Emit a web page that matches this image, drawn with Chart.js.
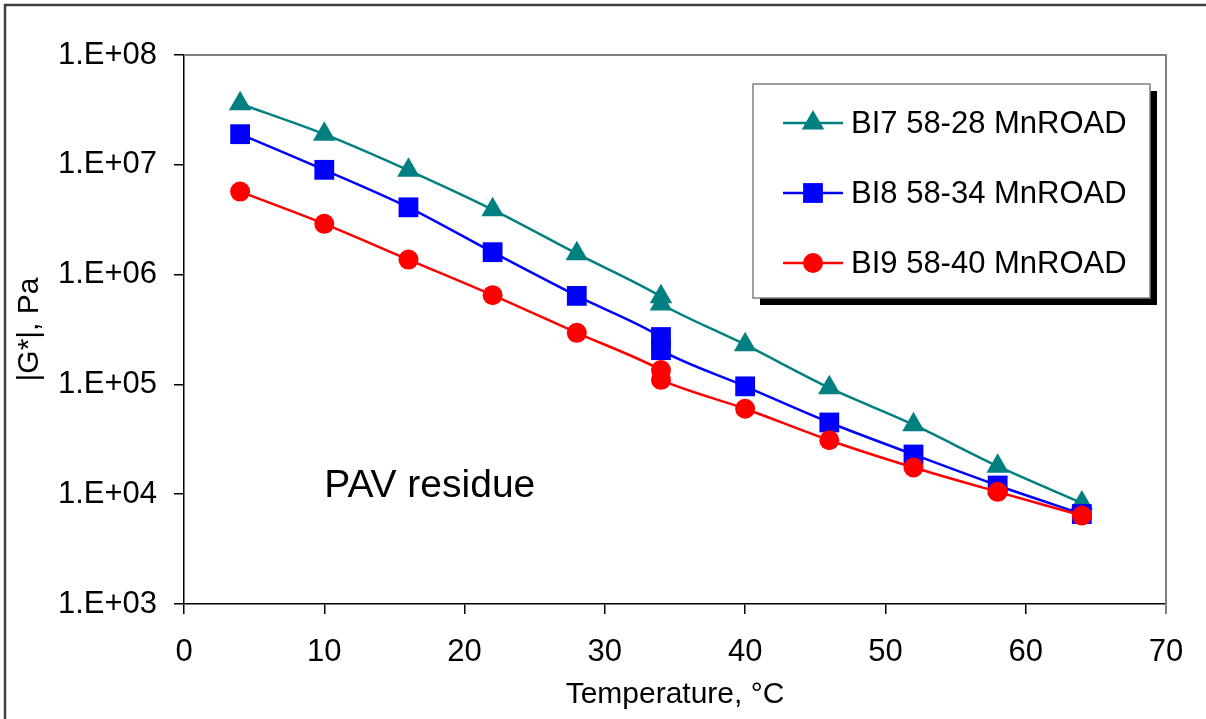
<!DOCTYPE html>
<html>
<head>
<meta charset="utf-8">
<title>|G*| vs temperature, PAV residue</title>
<script src="https://cdn.jsdelivr.net/npm/chart.js@4/dist/chart.umd.min.js"></script>
<style>
	html, body { margin: 0; padding: 0; background: #fff; }
	#gChart { display: block; }
</style>
</head>
<body>
<canvas id="gChart" width="1206" height="719"></canvas>
<script>
let temps = [4, 10, 16, 22, 28, 34, 34, 40, 46, 52, 58, 64];
let bi7 = [3.6e7, 1.9e7, 8.9e6, 3.9e6, 1.55e6, 6.3e5, 5.4e5, 2.3e5, 9.3e4, 4.3e4, 1.8e4, 8.3e3];
let bi8 = [1.9e7, 9.0e6, 4.1e6, 1.6e6, 6.4e5, 2.7e5, 2.05e5, 9.6e4, 4.5e4, 2.3e4, 1.2e4, 6.6e3];
let bi9 = [5.7e6, 2.9e6, 1.37e6, 6.5e5, 2.95e5, 1.35e5, 1.1e5, 6.0e4, 3.1e4, 1.75e4, 1.05e4, 6.4e3];
let seriesNames = ['BI7 58-28 MnROAD', 'BI8 58-34 MnROAD', 'BI9 58-40 MnROAD'];
let yTicks = [1e3, 1e4, 1e5, 1e6, 1e7, 1e8];
let yTickLabels = ['1.E+03', '1.E+04', '1.E+05', '1.E+06', '1.E+07', '1.E+08'];
let noteText = 'PAV residue';
let noteAt = { x: 10, y: 9.4e3 };

;(function (window, document, undefined) {
	'use strict';

	const FONT = 'Arial, "Liberation Sans", sans-serif';

	Chart.defaults.font.family = FONT;
	Chart.defaults.color = '#000';

	function toPoints(values) {
		return temps.map(function (t, i) {
			return { x: t, y: values[i] };
		});
	}

	function drawMarker(ctx, style, r, x, y, color) {
		ctx.save();
		ctx.fillStyle = color;
		ctx.beginPath();
		if (style === 'triangle') {
			let dx = r * Math.sin(Math.PI / 3);
			ctx.moveTo(x, y - r);
			ctx.lineTo(x + dx, y + r / 2);
			ctx.lineTo(x - dx, y + r / 2);
			ctx.closePath();
		} else if (style === 'rect') {
			let s = r * Math.SQRT1_2;
			ctx.rect(x - s, y - s, 2 * s, 2 * s);
		} else {
			ctx.arc(x, y, r, 0, Math.PI * 2);
		}
		ctx.fill();
		ctx.restore();
	}

	let decorPlugin = {
		id: 'decor',
		beforeDatasetsDraw: function (chart) {
			let ctx = chart.ctx;
			let a = chart.chartArea;
			ctx.save();
			// plot area frame, top and right side
			ctx.strokeStyle = '#808080';
			ctx.lineWidth = 2;
			ctx.beginPath();
			ctx.moveTo(a.left, a.top);
			ctx.lineTo(a.right, a.top);
			ctx.lineTo(a.right, a.bottom + 10);
			ctx.stroke();
			ctx.restore();
		},
		afterDraw: function (chart) {
			let ctx = chart.ctx;
			let sx = chart.scales.x;
			let sy = chart.scales.y;
			ctx.save();

			// outer chart frame
			ctx.strokeStyle = '#404040';
			ctx.lineWidth = 2.5;
			ctx.strokeRect(5, 5, 1400, 900);

			// note inside the plot
			ctx.fillStyle = '#000';
			ctx.font = '39px ' + FONT;
			ctx.textAlign = 'left';
			ctx.textBaseline = 'alphabetic';
			ctx.fillText(noteText, sx.getPixelForValue(noteAt.x), sy.getPixelForValue(noteAt.y));

			// legend box with drop shadow
			let bx = 753, by = 84, bw = 397, bh = 214;
			ctx.fillStyle = '#000';
			ctx.fillRect(bx + 7, by + 7, bw, bh);
			ctx.fillStyle = '#fff';
			ctx.fillRect(bx, by, bw, bh);
			ctx.strokeStyle = '#808080';
			ctx.lineWidth = 1.5;
			ctx.strokeRect(bx, by, bw, bh);

			chart.data.datasets.forEach(function (ds, i) {
				let rowY = 123 + i * 70;
				ctx.strokeStyle = ds.borderColor;
				ctx.lineWidth = ds.borderWidth;
				ctx.beginPath();
				ctx.moveTo(783, rowY);
				ctx.lineTo(843, rowY);
				ctx.stroke();
				drawMarker(ctx, ds.pointStyle, ds.pointRadius, 813, rowY, ds.pointBackgroundColor);
				ctx.fillStyle = '#000';
				ctx.font = '31px ' + FONT;
				ctx.textBaseline = 'middle';
				ctx.fillText(ds.label, 851, rowY + 1);
			});

			ctx.restore();
		}
	};

	let ctx = document.getElementById('gChart').getContext('2d');

	let gChart = new Chart(ctx, {
		type: 'scatter',
		data: {
			datasets: [{
				label: seriesNames[0],
				data: toPoints(bi7),
				showLine: true,
				tension: 0.3,
				borderColor: '#008080',
				backgroundColor: '#008080',
				pointBackgroundColor: '#008080',
				pointBorderWidth: 0,
				borderWidth: 2.5,
				pointStyle: 'triangle',
				pointRadius: 13,
				order: 3
			}, {
				label: seriesNames[1],
				data: toPoints(bi8),
				showLine: true,
				tension: 0.3,
				borderColor: '#0000ff',
				backgroundColor: '#0000ff',
				pointBackgroundColor: '#0000ff',
				pointBorderWidth: 0,
				borderWidth: 2.5,
				pointStyle: 'rect',
				pointRadius: 14,
				order: 2
			}, {
				label: seriesNames[2],
				data: toPoints(bi9),
				showLine: true,
				tension: 0.3,
				borderColor: '#ff0000',
				backgroundColor: '#ff0000',
				pointBackgroundColor: '#ff0000',
				pointBorderWidth: 0,
				borderWidth: 2.5,
				pointStyle: 'circle',
				pointRadius: 10,
				order: 1
			}]
		},
		options: {
			responsive: false,
			animation: false,
			devicePixelRatio: 1,
			layout: {
				padding: { left: 12, top: 55, right: 40, bottom: 0 }
			},
			plugins: {
				legend: { display: false },
				tooltip: { enabled: false }
			},
			scales: {
				x: {
					type: 'linear',
					min: 0,
					max: 70,
					afterFit: function (s) { s.height = 115; },
					ticks: {
						stepSize: 10,
						padding: 20,
						maxRotation: 0,
						font: { size: 31 },
						color: '#000'
					},
					grid: {
						drawOnChartArea: false,
						drawTicks: true,
						tickLength: 10,
						color: '#000',
						lineWidth: 1.5
					},
					border: { display: true, color: '#000', width: 1.5 },
					title: {
						display: true,
						text: 'Temperature, °C',
						font: { size: 30 },
						color: '#000',
						padding: { top: 0, bottom: 6 }
					}
				},
				y: {
					type: 'logarithmic',
					min: yTicks[0],
					max: yTicks[yTicks.length - 1],
					afterFit: function (s) { s.width = 172; },
					afterBuildTicks: function (s) {
						s.ticks = yTicks.map(function (v) { return { value: v }; });
					},
					ticks: {
						padding: 17,
						font: { size: 31 },
						color: '#000',
						callback: function (v) {
							return yTickLabels[Math.round(Math.log10(v)) - 3];
						}
					},
					grid: {
						drawOnChartArea: false,
						drawTicks: true,
						tickLength: 10,
						color: '#000',
						lineWidth: 1.5
					},
					border: { display: true, color: '#000', width: 1.5 },
					title: {
						display: true,
						text: '|G*|, Pa',
						font: { size: 30 },
						color: '#000',
						padding: 0
					}
				}
			}
		},
		plugins: [decorPlugin]
	});

})(window, document);
</script>
</body>
</html>
